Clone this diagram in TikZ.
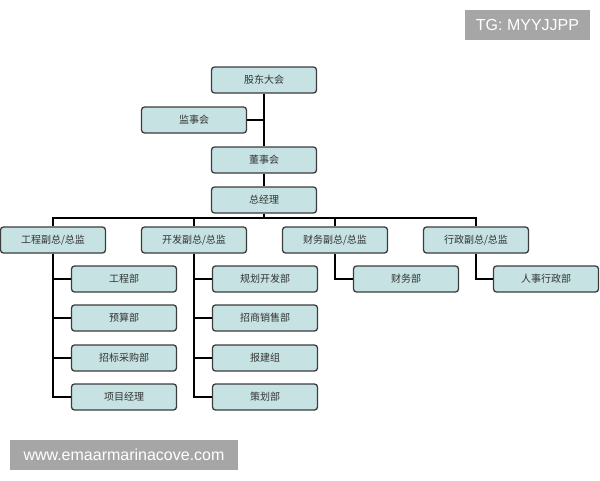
\documentclass[tikz,border=0pt]{standalone}
\usepackage{fontspec}
\newfontfamily\cjk{Noto Sans CJK SC}
\setsansfont{Liberation Sans}
\usetikzlibrary{positioning}
\definecolor{boxfill}{RGB}{198,226,226}
\definecolor{boxline}{RGB}{60,60,60}
\definecolor{markgray}{RGB}{166,166,166}

\begin{document}
\begin{tikzpicture}[x=1pt,y=-1pt,
  unit/.style={draw=boxline,fill=boxfill,rounded corners=3pt,line width=1.3pt,
    minimum width=105pt,minimum height=26pt,inner sep=0pt,
    font=\cjk\fontsize{10}{11}\selectfont,text=black!80},
  link/.style={line width=2pt},
  tagbox/.style={fill=markgray,text=white,inner sep=0pt,minimum height=30pt,
    font=\sffamily\fontsize{16}{18}\selectfont}]
  \useasboundingbox (0,0) rectangle (600,480);
  % top of the chart
  \node[unit] (gd) at (264,80) {股东大会};
  \node[unit] (jsh) at (194,120) {监事会};
  \node[unit] (dsh) at (264,160) {董事会};
  \node[unit] (zjl) at (264,200) {总经理};
  \coordinate (bus) at (264,218);
  % second level
  \node[unit] (gc) at (53,240) {工程副总/总监};
  \node[unit] (kf) at (194,240) {开发副总/总监};
  \node[unit] (cw) at (335,240) {财务副总/总监};
  \node[unit] (xz) at (476,240) {行政副总/总监};
  % departments
  \foreach \txt/\y [count=\i] in {工程部/279,预算部/318,招标采购部/358,项目经理/397}
    \node[unit] (gc\i) at (124,\y) {\txt};
  \foreach \txt/\y [count=\i] in {规划开发部/279,招商销售部/318,报建组/358,策划部/397}
    \node[unit] (kf\i) at (265,\y) {\txt};
  \node[unit] (cwb) at (406,279) {财务部};
  \node[unit] (rs) at (546,279) {人事行政部};

  \draw[link] (gd) -- (dsh);
  \draw[link] (jsh.east) -- (jsh.east -| gd.south);
  \draw[link] (dsh) -- (zjl);
  \draw[link] (zjl.south) -- (bus);
  \draw[link] (gc.north) |- (bus) -| (xz.north);
  \draw[link] (kf.north) -- (kf.north |- bus);
  \draw[link] (cw.north) -- (cw.north |- bus);
  \foreach \i in {1,...,4} {
    \draw[link] (gc.south) |- (gc\i.west);
    \draw[link] (kf.south) |- (kf\i.west);
  }
  \draw[link] (cw.south) |- (cwb.west);
  \draw[link] (xz.south) |- (rs.west);

  \node[tagbox,minimum width=125pt] (tg) at (527.5,25) {TG: MYYJJPP};
  \node[tagbox,minimum width=228pt] (site) at (124,455) {www.emaarmarinacove.com};
\end{tikzpicture}
\end{document}
